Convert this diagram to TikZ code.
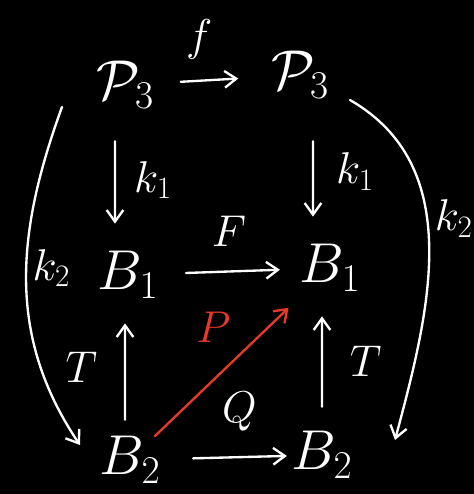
\RequirePackage{fix-cm}
\documentclass[tikz,border=0pt]{standalone}
\usepackage{xcolor}
\definecolor{board}   {HTML}{000000}
\definecolor{chalk}   {HTML}{FFFFFF}
\definecolor{penRed}  {HTML}{E6392B}
\usetikzlibrary{arrows.meta, positioning, calc}
\tikzset{
    obj/.style={inner sep=0pt, text=chalk, font=\fontsize{48}{54}\selectfont},
    lbl/.style={inner sep=0pt, text=chalk, font=\fontsize{38}{44}\selectfont},
    map/.style={-{Straight Barb[length=3.5mm, width=5mm]}, line width=2pt,
                chalk, line cap=round, line join=round},
    redmap/.style={map, penRed},
}
\begin{document}
\begin{tikzpicture}[x=0.03cm, y=0.03cm]
\fill[board] (0,0) rectangle (474,494);
\useasboundingbox (0,0) rectangle (474,494);
% --- objects ---
\node[obj] (p3l) at (125,409) {$\mathcal{P}_3$};
\node[obj] (p3r) at (300,419) {$\mathcal{P}_3$};
\node[obj] (b1l) at (128,219) {$B_1$};
\node[obj] (b1r) at (330,226) {$B_1$};
\node[obj] (b2l) at (130,34) {$B_2$};
\node[obj] (b2r) at (322,39) {$B_2$};

% --- top square ---
\draw[map, shorten <=8mm, shorten >=9.8mm] (p3l) --
    node[lbl, above=6mm, xshift=-4mm] {$f$} (p3r);
\draw[map, shorten <=9.8mm, shorten >=8.3mm]
    ([xshift=-3mm]p3l.south) --
    node[lbl, right=5.4mm] {$k_1$} ([xshift=-3.9mm]b1l.north);
\draw[map, shorten <=12.8mm, shorten >=8.3mm]
    ([xshift=3.9mm]p3r.south) --
    node[lbl, right=6.6mm] {$k_1$} ([xshift=-5.1mm]b1r.north);
\draw[map, shorten <=8.3mm, shorten >=5.9mm] (b1l) --
    node[lbl, above=7mm] {$F$} (b1r);

% --- bottom square ---
\draw[map, shorten <=5mm, shorten >=7.4mm]
    ([xshift=-1.5mm]b2l.north) --
    node[lbl, left=8mm] {$T$} ([xshift=-0.9mm]b1l.south);
\draw[map, shorten <=7.4mm, shorten >=7.4mm]
    (b2r.north) --
    node[lbl, right=8mm] {$T$} ([xshift=-2.4mm]b1r.south);
\draw[map, shorten <=9.8mm, shorten >=1.4mm] (b2l) --
    node[lbl, above=7.5mm, xshift=4mm] {$Q$} (b2r);
\draw[redmap, shorten >=7mm] (b2l) --
    node[lbl, text=penRed, above=6mm, xshift=-5mm] {$P$} (b1r);

% --- outer k2 maps ---
\draw[map] ([shift={(-63,-22)}]p3l.center) to[out=250, in=124]
    node[lbl, pos=0.46, right=1.5mm] {$k_2$} ([shift={(-50,15)}]b2l.center);
\draw[map] ([shift={(50,-25)}]p3r.center) to[out=-30, in=75]
    node[lbl, pos=0.42, right=2mm] {$k_2$} ([shift={(73,15)}]b2r.center);
\end{tikzpicture}
\end{document}
